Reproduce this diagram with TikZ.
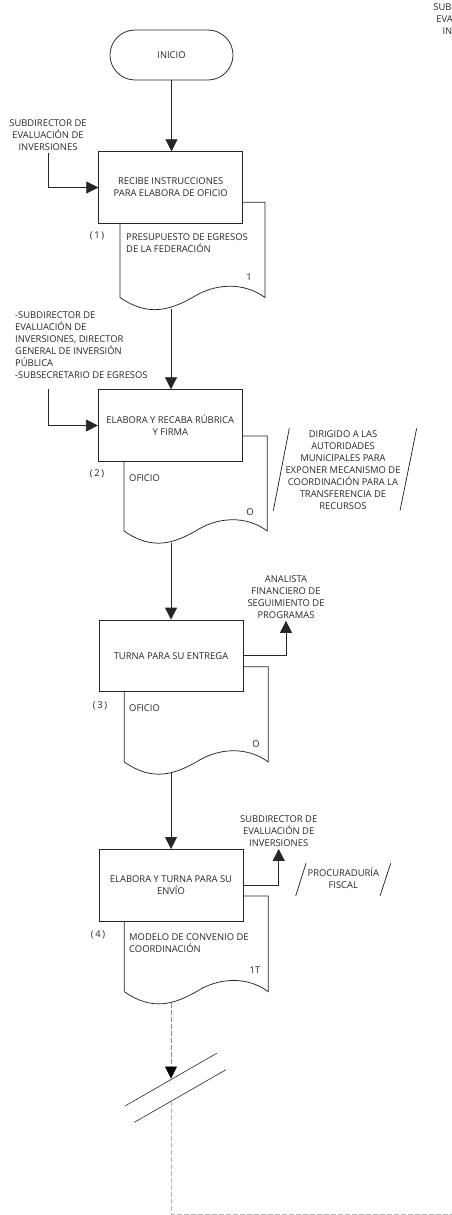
\documentclass[tikz,border=0pt]{standalone}
\usepackage{fontspec}
\setmainfont{Open Sans}
\usetikzlibrary{arrows.meta,calc}
\newcommand\mydoc[4]{%
  \pgfmathsetmacro\W{#2-#1}%
  \draw[ln, fill=white] (#1,#3) -- (#2,#3) -- (#2,#4)
    .. controls ({#2-0.15*\W},{#4-16}) and ({#2-0.35*\W},{#4-14}) .. ({#1+0.5*\W},{#4})
    .. controls ({#1+0.35*\W},{#4+12}) and ({#1+0.2*\W},{#4+20}) .. (#1,#4) -- cycle;}
\begin{document}
\begin{tikzpicture}[x=1pt,y=-1pt,
  txt/.style={font=\fontsize{9.4}{12}\selectfont, text=black!85, align=center, inner sep=2pt},
  ln/.style={draw=black!85, line width=0.75pt},
  box/.style={ln, fill=white, minimum width=144pt, minimum height=71.6pt, inner sep=0pt,
    font=\fontsize{9.4}{12}\selectfont, text=black!85, align=center},
  term/.style={ln, fill=white, minimum width=123pt, minimum height=50pt, rounded corners=25pt,
    font=\fontsize{9.4}{12}\selectfont, text=black!85},
  arr/.style={ln, -{Triangle[length=12pt,width=12pt]}},
  darr/.style={draw=black!45, line width=0.75pt, dash pattern=on 5pt off 2pt,
    -{Triangle[length=12pt,width=12pt,color=black,fill=black]}},
  dln/.style={draw=black!30, line width=0.75pt, dash pattern=on 5pt off 2pt},
  brk/.style={draw=black!85, line width=0.6pt}
]
\useasboundingbox (0,0) rectangle (452,1215);
\clip (0,0) rectangle (452,1215);

% top-right cut text
\node[txt] (tr) at (472,19) {SUBDIRECTOR DE\\EVALUACIÓN DE\\INVERSIONES};

% start
\node[term] (start) at (171.5,55) {INICIO};

% step 1
\node[txt] (in1) at (48,135) {SUBDIRECTOR DE\\EVALUACIÓN DE\\INVERSIONES};
\mydoc{120}{265}{202.3}{297.5}
\node[box] (b1) at (170.7,187.5) {RECIBE INSTRUCCIONES\\PARA ELABORA DE OFICIO};
\node[txt, align=left, anchor=west] (t1) at (124,243) {PRESUPUESTO DE EGRESOS\\DE LA FEDERACIÓN};
\node[txt] (n1) at (249,276.7) {1};
\node[txt] (p1) at (97,236) {(\,1\,)};

% step 2
\node[txt, align=left, anchor=west] (in2) at (13,345.5) {-SUBDIRECTOR DE\\EVALUACIÓN DE\\INVERSIONES, DIRECTOR\\GENERAL DE INVERSIÓN\\PÚBLICA\\-SUBSECRETARIO DE EGRESOS};
\mydoc{124}{267.3}{436}{531}
\node[box] (b2) at (170.3,425.5) {ELABORA Y RECABA RÚBRICA\\Y FIRMA};
\node[txt, anchor=west] (t2) at (127,477.7) {OFICIO};
\node[txt] (n2) at (250,511.7) {O};
\node[txt] (p2) at (97,474) {(\,2\,)};
\node[txt] (a2) at (343,470) {DIRIGIDO A LAS\\AUTORIDADES\\MUNICIPALES PARA\\EXPONER MECANISMO DE\\COORDINACIÓN PARA LA\\TRANSFERENCIA DE\\RECURSOS};
\draw[ln] (289.3,428.3) -- (273.3,510.7);
\draw[ln] (416.7,428.3) -- (400,510.7);

% step 3
\mydoc{124.3}{268.3}{666.7}{762}
\node[box] (b3) at (171,655.8) {TURNA PARA SU ENTREGA};
\node[txt] (o3) at (286,597.2) {ANALISTA\\FINANCIERO DE\\SEGUIMIENTO DE\\PROGRAMAS};
\node[txt, anchor=west] (t3) at (127,708) {OFICIO};
\node[txt] (n3) at (256,744) {O};
\node[txt] (p3) at (100,705.7) {(\,3\,)};

% step 4
\mydoc{124.3}{268.3}{896}{991.7}
\node[box] (b4) at (171,885.2) {ELABORA Y TURNA PARA SU\\ENVÍO};
\node[txt] (o4) at (278.7,831.3) {SUBDIRECTOR DE\\EVALUACIÓN DE\\INVERSIONES};
\node[txt] (a4) at (343.3,878.5) {PROCURADURÍA\\FISCAL};
\draw[ln] (306,863.3) -- (295.7,896);
\draw[ln] (390.7,863.3) -- (380,896);
\node[txt, align=left, anchor=west] (t4) at (127,943.3) {MODELO DE CONVENIO DE\\COORDINACIÓN};
\node[txt] (n4) at (255,970.3) {1T};
\node[txt] (p4) at (98,935) {(\,4\,)};

% connectors
\draw[arr] (start.south) -- (start.south |- b1.north);
\draw[arr] (in1.south) |- (b1.west);
\coordinate (d1b) at (171,308.5);
\draw[arr] (d1b) -- (d1b |- b2.north);
\coordinate (s2) at (48.3,389);
\draw[arr] (s2) |- (b2.west);
\coordinate (d2b) at (171,542.5);
\draw[arr] (d2b) -- (d2b |- b3.north);
\draw[arr] (b3.east) -| (o3.south);
\coordinate (d3b) at (171,773);
\draw[arr] (d3b) -- (d3b |- b4.north);
\draw[arr] (b4.east) -| (o4.south);

% off-page break
\coordinate (d4b) at (171,1003);
\coordinate (brkA) at (171,1078.5);
\draw[darr] (d4b) -- (brkA);
\draw[brk] (125,1106) -- (216.7,1053.3);
\draw[brk] (134.3,1122.3) -- (226,1069.7);
\coordinate (brkB) at (171,1101.2);
\coordinate (endp) at (452,1214.3);
\draw[dln] (brkB) |- (endp);
\end{tikzpicture}
\end{document}
